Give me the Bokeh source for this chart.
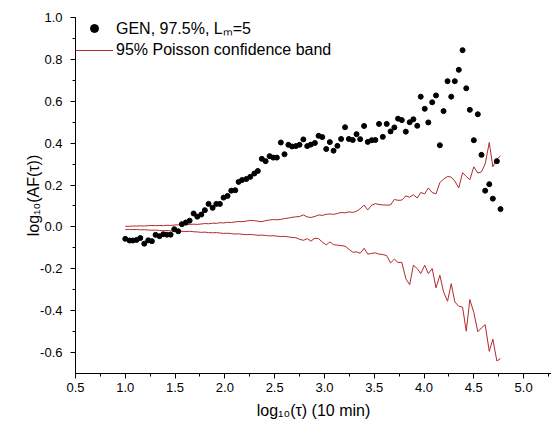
from bokeh.plotting import figure
from bokeh.models import Legend, LegendItem, SingleIntervalTicker, Range1d, PrintfTickFormatter
from bokeh.embed import file_html
from bokeh.resources import INLINE

# log10(tau) positions
log_tau = [1.000, 1.043, 1.076, 1.113, 1.151, 1.191, 1.231, 1.267, 1.304, 1.344,
           1.382, 1.418, 1.455, 1.492, 1.532, 1.568, 1.608, 1.646, 1.686, 1.723,
           1.763, 1.799, 1.836, 1.877, 1.914, 1.950, 1.987, 2.027, 2.064, 2.104,
           2.138, 2.173, 2.216, 2.255, 2.296, 2.331, 2.371, 2.409, 2.449, 2.486,
           2.522, 2.562, 2.599, 2.638, 2.675, 2.713, 2.750, 2.788, 2.827, 2.863,
           2.904, 2.941, 2.978, 3.018, 3.054, 3.091, 3.130, 3.167, 3.207, 3.245,
           3.284, 3.322, 3.359, 3.398, 3.435, 3.475, 3.511, 3.548, 3.586, 3.625,
           3.664, 3.702, 3.739, 3.777, 3.817, 3.856, 3.893, 3.932, 3.967, 4.007,
           4.043, 4.082, 4.120, 4.159, 4.196, 4.236, 4.273, 4.309, 4.349, 4.387,
           4.424, 4.460, 4.500, 4.540, 4.577, 4.614, 4.655, 4.691, 4.731, 4.768]

# GEN, 97.5%, Lm=5 : log10(AF(tau))
gen_af = [-0.057, -0.065, -0.065, -0.062, -0.053, -0.080, -0.064, -0.068, -0.038, -0.044,
          -0.035, -0.037, -0.037, -0.011, -0.021, 0.013, 0.021, 0.030, 0.064, 0.049,
          0.059, 0.080, 0.110, 0.091, 0.110, 0.110, 0.140, 0.148, 0.173, 0.175,
          0.215, 0.224, 0.229, 0.239, 0.255, 0.267, 0.325, 0.314, 0.338, 0.331,
          0.331, 0.403, 0.347, 0.392, 0.384, 0.386, 0.392, 0.418, 0.386, 0.393,
          0.401, 0.435, 0.429, 0.372, 0.405, 0.364, 0.387, 0.420, 0.476, 0.420,
          0.415, 0.443, 0.419, 0.482, 0.406, 0.414, 0.415, 0.492, 0.430, 0.492,
          0.456, 0.475, 0.517, 0.510, 0.455, 0.500, 0.514, 0.483, 0.622, 0.564,
          0.499, 0.595, 0.628, 0.390, 0.553, 0.696, 0.622, 0.696, 0.750, 0.844,
          0.662, 0.559, 0.414, 0.538, 0.344, 0.173, 0.204, 0.135, 0.314, 0.085]

# 95% Poisson confidence band
band_upper = [0.003, 0.003, 0.004, 0.004, 0.005, 0.004, 0.006, 0.007, 0.006, 0.007,
              0.006, 0.008, 0.007, 0.009, 0.010, 0.011, 0.010, 0.012, 0.013, 0.012,
              0.014, 0.016, 0.015, 0.018, 0.017, 0.020, 0.019, 0.022, 0.021, 0.024,
              0.026, 0.025, 0.028, 0.031, 0.030, 0.027, 0.025, 0.030, 0.033, 0.035,
              0.034, 0.036, 0.040, 0.042, 0.046, 0.048, 0.050, 0.057, 0.048, 0.045,
              0.050, 0.057, 0.055, 0.060, 0.062, 0.060, 0.064, 0.069, 0.067, 0.072,
              0.069, 0.075, 0.087, 0.104, 0.081, 0.104, 0.111, 0.107, 0.105, 0.104,
              0.105, 0.131, 0.127, 0.128, 0.148, 0.142, 0.154, 0.138, 0.164, 0.158,
              0.186, 0.164, 0.158, 0.212, 0.228, 0.241, 0.238, 0.219, 0.186, 0.259,
              0.241, 0.225, 0.287, 0.257, 0.263, 0.301, 0.403, 0.287, 0.323, 0.339]

band_lower = [-0.012, -0.012, -0.013, -0.012, -0.014, -0.013, -0.015, -0.016, -0.015, -0.017,
              -0.018, -0.017, -0.019, -0.020, -0.019, -0.021, -0.022, -0.021, -0.023, -0.024,
              -0.026, -0.025, -0.027, -0.028, -0.027, -0.029, -0.031, -0.030, -0.032, -0.034,
              -0.033, -0.035, -0.037, -0.036, -0.038, -0.040, -0.039, -0.041, -0.043, -0.042,
              -0.044, -0.046, -0.045, -0.048, -0.050, -0.052, -0.059, -0.064, -0.056, -0.068,
              -0.054, -0.056, -0.072, -0.086, -0.072, -0.085, -0.087, -0.089, -0.092, -0.106,
              -0.121, -0.119, -0.126, -0.102, -0.130, -0.126, -0.124, -0.130, -0.132, -0.137,
              -0.172, -0.154, -0.170, -0.169, -0.247, -0.276, -0.183, -0.199, -0.223, -0.183,
              -0.223, -0.199, -0.291, -0.231, -0.310, -0.355, -0.271, -0.358, -0.379, -0.383,
              -0.498, -0.347, -0.409, -0.501, -0.482, -0.467, -0.594, -0.536, -0.640, -0.629]

gen_label = "GEN, 97.5%, L\u2098=5"
band_label = "95% Poisson confidence band"
x_title = "log\u2081\u2080(\u03c4) (10 min)"
y_title = "log\u2081\u2080(AF(\u03c4))"

FONT = "Liberation Sans"
RED = "#b02a2a"

p = figure(width=551, height=434, output_backend="svg", toolbar_location=None,
           x_range=Range1d(0.5, 5.28), y_range=Range1d(-0.7, 1.0),
           min_border_left=75, min_border_right=0, min_border_top=17, min_border_bottom=61,
           background_fill_color="white", border_fill_color="white")
p.outline_line_color = None
p.xgrid.visible = False
p.ygrid.visible = False

up = p.line(log_tau, band_upper, line_color=RED, line_width=1)
lo = p.line(log_tau, band_lower, line_color=RED, line_width=1)
sc = p.scatter(log_tau, gen_af, size=5, marker="circle", fill_color="black", line_color="black")

for ax, ticker in ((p.xaxis[0], SingleIntervalTicker(interval=0.5, num_minor_ticks=2)),
                   (p.yaxis[0], SingleIntervalTicker(interval=0.2, num_minor_ticks=2))):
    ax.ticker = ticker
    ax.formatter = PrintfTickFormatter(format="%.1f")
    ax.axis_line_color = "black"
    ax.axis_line_width = 1
    ax.major_tick_line_color = "black"
    ax.minor_tick_line_color = "black"
    ax.major_tick_in = 0
    ax.major_tick_out = 5
    ax.minor_tick_in = 0
    ax.minor_tick_out = 3
    ax.major_label_text_font = FONT
    ax.major_label_text_font_size = "13px"
    ax.major_label_text_color = "black"
    ax.axis_label_text_font = FONT
    ax.axis_label_text_font_size = "16px"
    ax.axis_label_text_font_style = "normal"
    ax.axis_label_text_color = "black"

p.xaxis[0].axis_label = x_title
p.yaxis[0].axis_label = y_title
p.xaxis[0].major_label_standoff = 4
p.yaxis[0].major_label_standoff = 8
p.xaxis[0].axis_label_standoff = 7
p.yaxis[0].axis_label_standoff = -5

legend = Legend(items=[LegendItem(label=gen_label, renderers=[sc]),
                       LegendItem(label=band_label, renderers=[up])],
                location="top_left", margin=0, padding=0, spacing=1,
                glyph_width=38, glyph_height=20, label_height=20, label_standoff=3,
                label_text_font=FONT, label_text_font_size="16px",
                label_text_color="black",
                border_line_color=None, background_fill_alpha=0)
p.add_layout(legend)

open("out.html", "w").write(file_html(p, INLINE))
